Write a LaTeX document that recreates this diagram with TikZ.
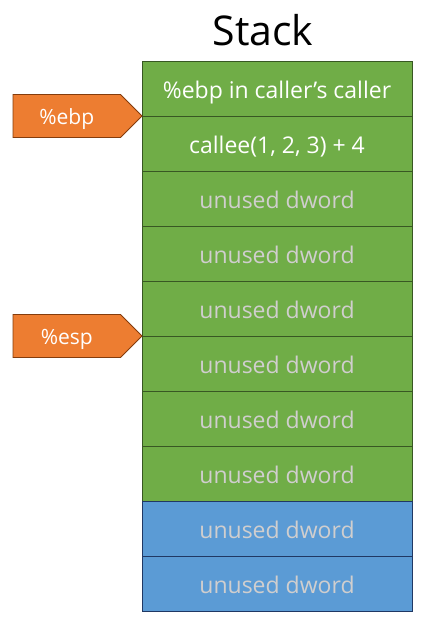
\documentclass[tikz,border=0pt]{standalone}
\usepackage{fontspec}
\setmainfont{Open Sans}
\usetikzlibrary{shapes.symbols,positioning}
\definecolor{cellgreen}{HTML}{70AD47}
\definecolor{greenline}{HTML}{385723}
\definecolor{cellblue}{HTML}{5B9BD5}
\definecolor{blueline}{HTML}{203864}
\definecolor{regorange}{HTML}{ED7D31}
\definecolor{orangeline}{HTML}{843C0C}
\definecolor{unusedgray}{HTML}{D0CECE}

\begin{document}
\begin{tikzpicture}[
    x=1pt, y=-1pt,
    cell/.style={rectangle, draw=greenline, fill=cellgreen, line width=0.9pt, minimum width=270pt, minimum height=55pt, inner sep=0pt, outer sep=0pt, text height=19pt, text depth=0pt, text=unusedgray, font=\fontsize{23}{27}\selectfont},
    used/.style={text=white},
    free/.style={draw=blueline, fill=cellblue},
    reg/.style={signal, signal to=east, signal pointer angle=90, draw=orangeline, fill=regorange, line width=0.9pt, minimum width=129pt, minimum height=43pt, inner sep=0pt, outer sep=0pt, text height=17pt, text depth=0pt, text=white, font=\fontsize{21}{25}\selectfont}
]
\useasboundingbox (0,0) rectangle (447,634);

% Title
\node[font=\fontsize{41}{48}\selectfont] (title) at (263,30) {Stack};

% Stack cells
\node[cell, used, anchor=north west] (c1) at (142,61) {\%ebp in caller’s caller};
\node[cell, used, below=0pt of c1] (c2) {callee(1, 2, 3) + 4};
\node[cell, below=0pt of c2] (c3) {unused dword};
\node[cell, below=0pt of c3] (c4) {unused dword};
\node[cell, below=0pt of c4] (c5) {unused dword};
\node[cell, below=0pt of c5] (c6) {unused dword};
\node[cell, below=0pt of c6] (c7) {unused dword};
\node[cell, below=0pt of c7] (c8) {unused dword};
\node[cell, free, below=0pt of c8] (c9) {unused dword};
\node[cell, free, below=0pt of c9] (c10) {unused dword};

% Registers
\node[reg, anchor=east] (ebp) at (c1.south west) {\%ebp};
\node[reg, anchor=east] (esp) at (c5.south west) {\%esp};

\end{tikzpicture}
\end{document}
